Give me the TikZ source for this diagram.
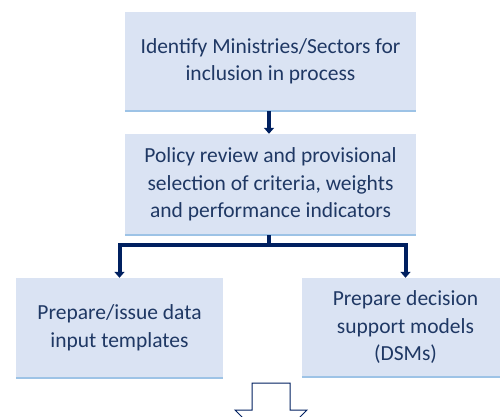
\documentclass[tikz,border=0pt]{standalone}
\usepackage{fontspec}
\setmainfont{Carlito}
\usepackage{xcolor}
\usepackage{tikz}
\usetikzlibrary{positioning}
\usetikzlibrary{arrows.meta}
\pgfdeclarelayer{nodelayer}
\pgfdeclarelayer{edgelayer}
\pgfsetlayers{nodelayer,edgelayer,main}
\definecolor{boxfill}{HTML}{DAE3F3}
\definecolor{boxrim}{HTML}{9DC3E6}
\definecolor{navy}{HTML}{1F3864}
\definecolor{linkblue}{HTML}{002060}
\tikzset{
    none/.style = {inner sep=0pt},
    stage/.style = {fill=boxfill, text=navy, align=center, inner sep=0pt,
        font=\fontsize{21.5}{27.5}\selectfont},
    rim/.style = {draw=boxrim, line width=2.5pt},
    link/.style = {draw=linkblue, line width=4pt, -{Triangle[width=10pt,length=6pt]}},
    bigarrow/.style = {draw=linkblue, fill=white, line width=1pt, line join=miter}
}

\begin{document}
\begin{tikzpicture}[x=1pt, y=1pt]
  \useasboundingbox (0, 0) rectangle (500, 416);
  \begin{pgfonlayer}{nodelayer}
    \node [style=stage, minimum width=291pt, minimum height=99pt] (0) at (270.5, 354.5)
      {Identify Ministries/Sectors for\\inclusion in process};
    \node [style=stage, minimum width=291pt, minimum height=101pt] (1) at (270.5, 231.5)
      {Policy review and provisional\\selection of criteria, weights\\and performance indicators};
    \node [style=stage, minimum width=207pt, minimum height=100pt] (2) at (119.5, 88)
      {Prepare/issue data\\input templates};
    \node [style=stage, minimum width=207pt, minimum height=99pt] (3) at (405.5, 88.5)
      {Prepare decision\\support models\\(DSMs)};
    \node [style=none] (4) at (269, 171) {};
    \draw [style=rim] (0.south west) -- (0.south east);
    \draw [style=rim] (1.south west) -- (1.south east);
    \draw [style=rim] (2.south west) -- (2.south east);
    \draw [style=rim] (3.south west) -- (3.south east);
  \end{pgfonlayer}
  \begin{pgfonlayer}{edgelayer}
    \draw [style=link] (0.south -| 4) -- (1.north -| 4);
    \draw [style=link] (1.south -| 4) -- (4.center) -| (2.north);
    \draw [style=link] (4.center) -| (3.north);
  \end{pgfonlayer}
  % open arrow leading on to the next stage
  \draw [style=bigarrow] (252, 33) -- (290, 33) -- (290, 6) -- (307, 6)
    -- (271, -30) -- (235, 6) -- (252, 6) -- cycle;
\end{tikzpicture}
\end{document}
